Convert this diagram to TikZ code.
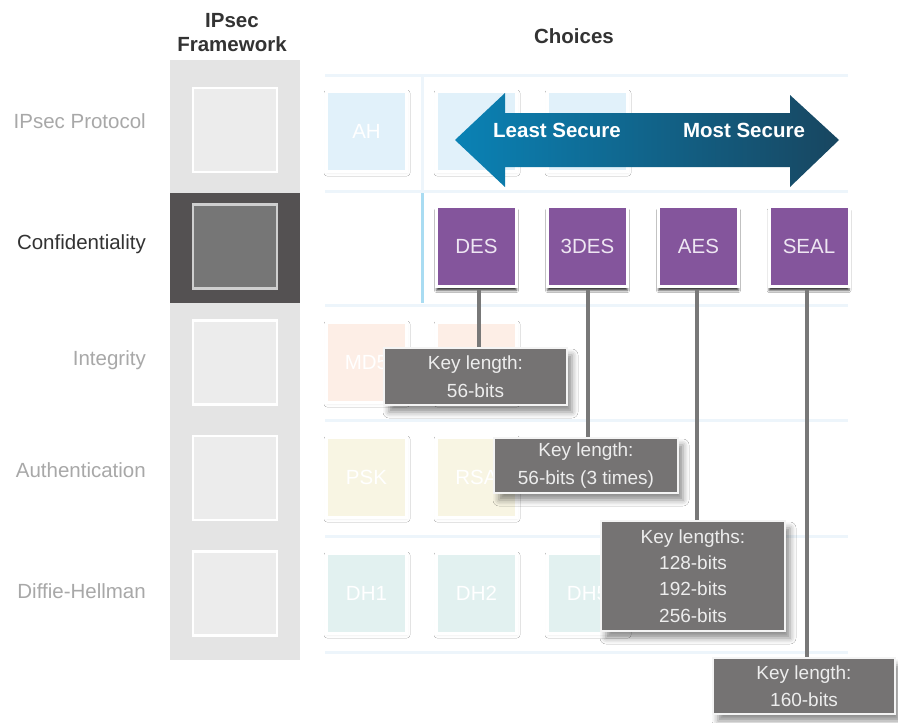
\documentclass[tikz,border=0pt]{standalone}
\usepackage{fontspec}
\setmainfont{Liberation Sans}
\usetikzlibrary{shadows.blur}
\definecolor{colfill}{HTML}{E4E4E4}
\definecolor{fwfill}{HTML}{ECECEC}
\definecolor{darkblk}{HTML}{545152}
\definecolor{darkin}{HTML}{767676}
\definecolor{darkbd}{HTML}{CFCFCF}
\definecolor{lblc}{HTML}{A8A8A8}
\definecolor{hdrc}{HTML}{333333}
\definecolor{gridc}{HTML}{EDF5FB}
\definecolor{vblue}{HTML}{A9DCF2}
\definecolor{ahfill}{HTML}{E1F1FA}
\definecolor{mdfill}{HTML}{FDEEE6}
\definecolor{pskfill}{HTML}{F8F5E3}
\definecolor{dhfill}{HTML}{E2F1F0}
\definecolor{purp}{HTML}{84559C}
\definecolor{purptext}{HTML}{EEE6F2}
\definecolor{callc}{HTML}{757373}
\definecolor{calld}{HTML}{F4F4F4}
\definecolor{calltext}{HTML}{EDEDED}
\definecolor{connc}{HTML}{787878}
\definecolor{arrL}{HTML}{0A82B5}
\definecolor{arrM}{HTML}{10678F}
\definecolor{arrR}{HTML}{184660}
\begin{document}
\begin{tikzpicture}[x=1pt,y=-1pt,
  lbl/.style={font=\fontsize{20.5}{24}\selectfont, inner sep=0, anchor=base east, text=lblc},
  hdr/.style={font=\fontsize{20.5}{24}\selectfont\bfseries, text=hdrc, inner sep=0, anchor=base},
  fwbox/.style={draw=white, line width=2.5pt, fill=fwfill, minimum width=84pt, minimum height=84pt, inner sep=0},
  optbox/.style={draw=white, line width=3pt, minimum width=80pt, minimum height=80pt, inner sep=0,
    text=white, font=\fontsize{20.5}{24}\selectfont,
    blur shadow={shadow xshift=0.5pt, shadow yshift=-1.5pt, shadow opacity=6, shadow blur radius=3pt}},
  algbox/.style={draw=white, line width=3pt, minimum width=80pt, minimum height=80pt, inner sep=0,
    fill=purp, text=purptext, font=\fontsize{20.5}{24}\selectfont,
    blur shadow={shadow xshift=0pt, shadow yshift=-4pt, shadow opacity=75, shadow blur radius=2pt}},
  callout/.style={fill=callc, draw=calld, line width=2.5pt, text=calltext, align=center, inner sep=0,
    font=\fontsize{19}{27.5}\selectfont,
    blur shadow={shadow xshift=5pt, shadow yshift=-7pt, shadow opacity=45, shadow blur radius=6pt}},
  conn/.style={draw=connc, line width=4pt},
  gridline/.style={draw=gridc, line width=3pt}
]
\useasboundingbox (0,0) rectangle (898,723);
\fill[white] (0,0) rectangle (898,723);

% headers
\node[hdr] (h1) at (232,27) {IPsec};
\node[hdr] (h2) at (232,51) {Framework};
\node[hdr] (h3) at (574,43) {Choices};

% framework column
\fill[colfill] (170,60) rectangle (300,660);
\fill[darkblk] (170,193) rectangle (300,303);
\node[fwbox] (f1) at (235,130) {};
\node[fwbox, fill=darkin, draw=darkbd] (f2) at (235,246.5) {};
\node[fwbox] (f3) at (235,362.5) {};
\node[fwbox] (f4) at (235,478) {};
\node[fwbox] (f5) at (235,593.5) {};

% row labels
\node[lbl] (l1) at (146,128) {IPsec Protocol};
\node[lbl, text=hdrc] (l2) at (146,249) {Confidentiality};
\node[lbl] (l3) at (146,365) {Integrity};
\node[lbl] (l4) at (146,477) {Authentication};
\node[lbl] (l5) at (146,598) {Diffie-Hellman};

% grid
\foreach \yy in {75,191,305,420,536,652} \draw[gridline] (325,\yy) -- (848,\yy);
\draw[gridline] (422,75) -- (422,191);
\draw[draw=vblue, line width=3pt] (422,193) -- (422,303);

% option boxes
\node[optbox, fill=ahfill] (ah) at (366.5,131.5) {AH};
\node[optbox, fill=ahfill] (esp) at (476.5,131.5) {};
\node[optbox, fill=ahfill] (espah) at (587.5,131.5) {};
\node[optbox, fill=mdfill] (md5) at (366.5,362.5) {MD5};
\node[optbox, fill=mdfill] (sha) at (476.5,362.5) {};
\node[optbox, fill=pskfill] (psk) at (366.5,477.5) {PSK};
\node[optbox, fill=pskfill] (rsa) at (476.5,477.5) {RSA};
\node[optbox, fill=dhfill] (dh1) at (366.5,593.5) {DH1};
\node[optbox, fill=dhfill] (dh2) at (476.5,593.5) {DH2};
\node[optbox, fill=dhfill] (dh5) at (587.5,593.5) {DH5};

% arrow
\shade[left color=arrL, middle color=arrM, right color=arrR]
  (455,140) -- (505,93) -- (505,113) -- (790,113) -- (790,95) -- (839,140)
  -- (790,187) -- (790,167) -- (505,167) -- (505,187) -- cycle;
\node[hdr, text=white] (least) at (557,137.5) {Least Secure};
\node[hdr, text=white] (most) at (744,137.5) {Most Secure};

% algorithm boxes
\node[algbox] (des) at (476.5,246.5) {DES};
\node[algbox] (tdes) at (587.5,246.5) {3DES};
\node[algbox] (aes) at (698.5,246.5) {AES};
\node[algbox] (seal) at (809,246.5) {SEAL};

% callouts
\node[callout, minimum width=183pt, minimum height=57pt] (c1) at (475.5,376.5) {Key length:\\56-bits};
\node[callout, minimum width=184pt, minimum height=55pt] (c2) at (586,465.5) {Key length:\\56-bits (3 times)};
\node[callout, minimum width=184pt, minimum height=110pt, font=\fontsize{19}{26.3}\selectfont] (c3) at (693,576) {Key lengths:\\128-bits\\192-bits\\256-bits};
\node[callout, minimum width=182pt, minimum height=56pt] (c4) at (804,686) {Key length:\\160-bits};

% connectors
\draw[conn] ([xshift=2.5pt,yshift=-2pt]des.south) -- ([xshift=2.5pt]des.south |- c1.north);
\draw[conn] ([yshift=-2pt]tdes.south) -- (tdes.south |- c2.north);
\draw[conn] ([xshift=-1.5pt,yshift=-2pt]aes.south) -- ([xshift=-1.5pt]aes.south |- c3.north);
\draw[conn] ([xshift=-2pt,yshift=-2pt]seal.south) -- ([xshift=-2pt]seal.south |- c4.north);
\end{tikzpicture}
\end{document}
